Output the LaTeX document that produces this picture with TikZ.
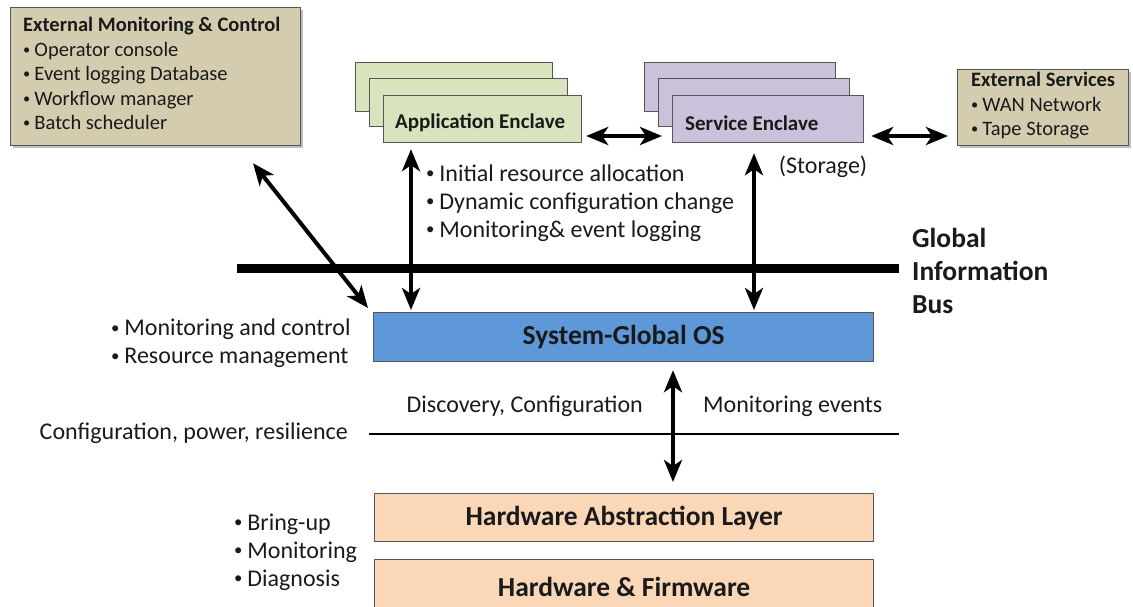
\documentclass[tikz,border=0pt]{standalone}
\usepackage{graphicx}
\usepackage{fontspec}
\setmainfont{Carlito}
\usetikzlibrary{arrows.meta,shadows,calc}

\definecolor{tanfill}{HTML}{D3CCAF}
\definecolor{appfill}{HTML}{D7E4BD}
\definecolor{svcfill}{HTML}{CCC1DA}
\definecolor{osfill}{HTML}{5E98D8}
\definecolor{hwfill}{HTML}{F9D7B7}
\definecolor{edgegray}{HTML}{555555}
\definecolor{txt}{HTML}{1A1A1A}

% small list bullet followed by a fixed gap
\newcommand{\bul}{\makebox[0.55em][l]{\raisebox{0.1em}{\scalebox{0.7}{•}}}}

\begin{document}
\begin{tikzpicture}[x=1pt,y=-1pt,
  every node/.style={text=txt},
  box/.style={draw=edgegray, line width=1.2pt, inner sep=0pt, anchor=north west},
  shade/.style={drop shadow={shadow xshift=2pt,shadow yshift=-2pt,fill=black,opacity=0.25}},
  body/.style={font=\fontsize{24pt}{28pt}\selectfont, inner sep=0pt},
  small/.style={font=\fontsize{20.5pt}{24.5pt}\selectfont, inner sep=0pt},
  encl/.style={font=\bfseries\fontsize{21pt}{24pt}\selectfont, inner sep=0pt, anchor=west},
  layer/.style={font=\bfseries\fontsize{27.5pt}{30pt}\selectfont},
  dbl/.style={line width=4pt,
    {Stealth[length=22pt,width=18pt,inset=6pt]}-{Stealth[length=22pt,width=18pt,inset=6pt]}},
  bus/.style={line width=9pt},
  thinline/.style={line width=2pt}
]
\useasboundingbox (0,0) rectangle (1133,607);

% external monitoring and control
\node[box, shade, fill=tanfill, minimum width=290pt, minimum height=138pt] (ext) at (10,7) {};
\node[small, anchor=north west, align=left] (extT) at (23,17)
  {\textbf{External Monitoring \& Control}\\
   \bul Operator console\\
   \bul Event logging Database\\
   \bul Workflow manager\\
   \bul Batch scheduler};

% external services
\node[box, shade, fill=tanfill, minimum width=171pt, minimum height=76pt] (exs) at (957,69) {};
\node[small, anchor=north west, align=left] (exsT) at (971,72)
  {\textbf{External Services}\\
   \bul WAN Network\\
   \bul Tape Storage};

% application enclave stack
\node[box, fill=appfill, minimum width=197pt, minimum height=49pt] (appC) at (355,62) {};
\node[box, fill=appfill, minimum width=198pt, minimum height=48pt] (appB) at (369,78) {};
\node[box, fill=appfill, minimum width=198pt, minimum height=47pt] (app) at (383,95) {};
\node[encl] (appT) at ($(app.west)+(12,4)$) {Application Enclave};

% service enclave stack
\node[box, fill=svcfill, minimum width=191pt, minimum height=49pt] (svcC) at (644,62) {};
\node[box, fill=svcfill, minimum width=191pt, minimum height=48pt] (svcB) at (658,78) {};
\node[box, fill=svcfill, minimum width=191pt, minimum height=47pt] (svc) at (672,95) {};
\node[encl] (svcT) at ($(svc.west)+(13,4)$) {Service Enclave};

% system-global OS and hardware layers
\node[box, fill=osfill, minimum width=500pt, minimum height=49pt] (os) at (373,312) {};
\node[layer] (osT) at (os.center) {System-Global OS};
\node[box, fill=hwfill, minimum width=499pt, minimum height=48pt] (hal) at (374,493) {};
\node[layer] (halT) at (hal.center) {Hardware Abstraction Layer};
\node[box, fill=hwfill, minimum width=499pt, minimum height=48pt] (hw) at (374,559) {};
\node[layer] (hwT) at ($(hw.center)+(0,3)$) {Hardware \& Firmware};

% global information bus and configuration line
\coordinate (busL) at (237,268.5);
\coordinate (busR) at (899,268.5);
\draw[bus] (busL) -- (busR);
\node[anchor=west, align=left, inner sep=0pt,
      font=\bfseries\fontsize{27.5pt}{33pt}\selectfont] (busT) at (912,271)
  {Global\\Information\\Bus};

\coordinate (cfgL) at (369,434);
\coordinate (cfgR) at (899,434);
\draw[thinline] (cfgL) -- (cfgR);

% text labels
\node[body, anchor=west, align=left] (flow) at (426,203)
  {\bul Initial resource allocation\\
   \bul Dynamic configuration change\\
   \bul Monitoring\& event logging};
\node[body] (stor) at (823,167) {(Storage)};
\node[body, anchor=west, align=left] (mgmt) at (111,343.5)
  {\bul Monitoring and control\\
   \bul Resource management};
\node[body, anchor=east] (cfg) at (348,433) {Configuration, power, resilience};
\node[body, anchor=east] (disc) at (643,406) {Discovery, Configuration};
\node[body, anchor=west] (mon) at (703,406) {Monitoring events};
\node[body, anchor=west, align=left] (hwtask) at (234,552)
  {\bul Bring-up\\
   \bul Monitoring\\
   \bul Diagnosis};

% connectors
\coordinate (xa) at (411,0);
\coordinate (xs) at (754,0);
\coordinate (xh) at (673,0);
\coordinate (yh) at (0,136);

\draw[dbl, shorten <=6pt, shorten >=2pt] (app.south -| xa) -- (os.north -| xa);
\draw[dbl, shorten <=10pt, shorten >=2pt] (svc.south -| xs) -- (os.north -| xs);
\draw[dbl] ($(ext.south west)+(243,17)$) -- ($(os.north west)+(-5,-4)$);
\draw[dbl, shorten <=8pt, shorten >=11pt] (os.south -| xh) -- (hal.north -| xh);
\draw[dbl, shorten <=4pt, shorten >=10pt] (app.east |- yh) -- (svc.west |- yh);
\draw[dbl, shorten <=7pt, shorten >=9pt] (svc.east |- yh) -- (exs.west |- yh);
\end{tikzpicture}
\end{document}
